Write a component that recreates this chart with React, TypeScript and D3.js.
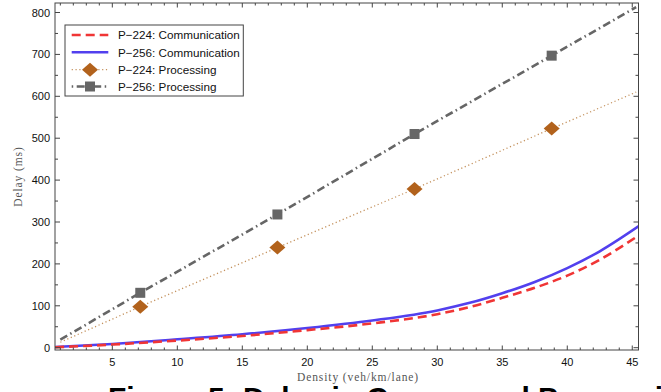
import React from "react";
import * as d3 from "d3";

// ---- data ----
const commDensity = [0.6, 5, 10, 15, 20, 25, 30, 32.5, 35, 37.5, 40, 42.5, 45.5];
const p224Comm = [1, 7.5, 17, 28, 42, 58, 80, 97, 119, 143, 172, 210, 268];
const p256Comm = [1.5, 9, 20, 32, 47, 65, 89, 107, 130, 157, 190, 230, 290];

const procLineDensity = [1, 7.15, 17.7, 28.25, 38.8, 45.3];
const p224ProcLine = [13, 98, 239, 379, 523, 610];
const p256ProcLine = [19, 131, 318, 510, 697, 813];

const markerDensity = [7.15, 17.7, 28.25, 38.8];
const p224ProcMarkers = [98, 239, 379, 523];
const p256ProcMarkers = [131, 318, 510, 697];

const xMajorTicks = [5, 10, 15, 20, 25, 30, 35, 40, 45];
const yMajorTicks = [0, 100, 200, 300, 400, 500, 600, 700, 800];

const legendLabels = [
  "P\u2212224: Communication",
  "P\u2212256: Communication",
  "P\u2212224: Processing",
  "P\u2212256: Processing",
];

const W = 661;
const H = 392;
const L = 55, R = 638.5, T = 3, B = 350;

const RED = "#f03535";
const BLUE = "#5240ee";
const BROWN = "#b2621c";
const BROWN_LINE = "#c4925e";
const GRAY = "#666666";
const AXIS = "#444444";

export default function App() {
  const x = d3.scaleLinear().domain([0.59, 45.48]).range([L, R]);
  const y = d3.scaleLinear().domain([-5.5, 822.7]).range([B, T]);

  const line = (xs: number[], ys: number[], curve: any = d3.curveMonotoneX) =>
    d3
      .line<number>()
      .x((_, i) => x(xs[i]))
      .y((d) => y(d))
      .curve(curve)(ys) || "";

  const xMinor = d3.range(1, 46, 1).filter((v) => v % 5 !== 0);
  const yMinor = d3.range(50, 822, 100);

  const sans = "'Liberation Sans', Arial, Helvetica, sans-serif";
  const serif = "'Liberation Serif', 'DejaVu Serif', serif";

  const diamond = (cx: number, cy: number, w = 16, h = 14) =>
    `M${cx},${cy - h / 2}L${cx + w / 2},${cy}L${cx},${cy + h / 2}L${cx - w / 2},${cy}Z`;

  const legX0 = 71.7, legX1 = 108.3, legText = 118;
  const legRows = [35, 52.3, 69.7, 86.5];

  return (
    <svg
      width={W}
      height={H}
      style={{ position: "absolute", left: 0, top: 0, background: "#fff" }}
      xmlns="http://www.w3.org/2000/svg"
    >
      <rect x={0} y={0} width={W} height={H} fill="#fff" />
      <defs>
        <clipPath id="plotclip">
          <rect x={L} y={T} width={R - L} height={B - T} />
        </clipPath>
      </defs>

      {/* caption (cut off by the frame) */}
      <text x={108} y={408} fontFamily={sans} fontWeight="bold" fontSize={30} fill="#000">
        Figure 5: Delay in Comm. and Processing
      </text>

      {/* series */}
      <g clipPath="url(#plotclip)" fill="none">
        <path
          d={line(procLineDensity, p224ProcLine, d3.curveLinear)}
          stroke={BROWN_LINE}
          strokeWidth={1.3}
          strokeDasharray="1.2,2.6"
        />
        <path
          d={line(procLineDensity, p256ProcLine, d3.curveLinear)}
          stroke={GRAY}
          strokeWidth={2.6}
          strokeDasharray="8,3.5,1.5,3.5"
        />
        <path d={line(commDensity, p256Comm)} stroke={BLUE} strokeWidth={2.6} />
        <path
          d={line(commDensity, p224Comm)}
          stroke={RED}
          strokeWidth={2.6}
          strokeDasharray="9,5"
        />
      </g>
      {markerDensity.map((d, i) => (
        <path key={"dm" + i} d={diamond(x(d), y(p224ProcMarkers[i]))} fill={BROWN} />
      ))}
      {markerDensity.map((d, i) => (
        <rect
          key={"sq" + i}
          x={x(d) - 5}
          y={y(p256ProcMarkers[i]) - 5}
          width={10}
          height={10}
          fill={GRAY}
        />
      ))}

      {/* frame */}
      <rect x={L} y={T} width={R - L} height={B - T} fill="none" stroke={AXIS} strokeWidth={1} />

      {/* ticks */}
      <g stroke={AXIS} strokeWidth={1}>
        {xMajorTicks.map((v) => (
          <g key={"xt" + v}>
            <line x1={x(v)} x2={x(v)} y1={B} y2={B - 4.5} />
            <line x1={x(v)} x2={x(v)} y1={T} y2={T + 4.5} />
          </g>
        ))}
        {xMinor.map((v) => (
          <g key={"xm" + v}>
            <line x1={x(v)} x2={x(v)} y1={B} y2={B - 2.5} />
            <line x1={x(v)} x2={x(v)} y1={T} y2={T + 2.5} />
          </g>
        ))}
        {yMajorTicks.map((v) => (
          <g key={"yt" + v}>
            <line x1={L} x2={L + 5} y1={y(v)} y2={y(v)} />
            <line x1={R} x2={R - 5} y1={y(v)} y2={y(v)} />
          </g>
        ))}
        {yMinor.map((v) => (
          <g key={"ym" + v}>
            <line x1={L} x2={L + 3} y1={y(v)} y2={y(v)} />
            <line x1={R} x2={R - 3} y1={y(v)} y2={y(v)} />
          </g>
        ))}
      </g>

      {/* tick labels */}
      <g fontFamily={sans} fontSize={11} fill="#111">
        {xMajorTicks.map((v) => (
          <text key={"xl" + v} x={x(v)} y={366} textAnchor="middle">
            {v}
          </text>
        ))}
        {yMajorTicks.map((v) => (
          <text key={"yl" + v} x={50} y={y(v) + 4} textAnchor="end">
            {v}
          </text>
        ))}
      </g>

      {/* axis titles */}
      <text
        x={358}
        y={381}
        textAnchor="middle"
        fontFamily={serif}
        fontSize={11.5}
        letterSpacing={0.9}
        fill="#555"
      >
        Density (veh/km/lane)
      </text>
      <text
        transform={`translate(21.5,${(T + B) / 2}) rotate(-90)`}
        textAnchor="middle"
        fontFamily={serif}
        fontSize={11.5}
        letterSpacing={0.9}
        fill="#555"
      >
        Delay (ms)
      </text>

      {/* legend */}
      <rect x={65} y={25} width={178.3} height={71} fill="#fff" stroke={AXIS} strokeWidth={1} />
      <line x1={legX0} x2={legX1} y1={legRows[0]} y2={legRows[0]} stroke={RED} strokeWidth={2.6} strokeDasharray="9,5" />
      <line x1={legX0} x2={legX1} y1={legRows[1]} y2={legRows[1]} stroke={BLUE} strokeWidth={2.6} />
      <line x1={legX0} x2={legX1} y1={legRows[2]} y2={legRows[2]} stroke={BROWN_LINE} strokeWidth={1.3} strokeDasharray="1.2,2.6" />
      <path d={diamond((legX0 + legX1) / 2, legRows[2])} fill={BROWN} />
      <line x1={legX0} x2={legX1} y1={legRows[3]} y2={legRows[3]} stroke={GRAY} strokeWidth={2.6} strokeDasharray="1.5,3.5,8,3.5" />
      <rect x={(legX0 + legX1) / 2 - 5} y={legRows[3] - 5} width={10} height={10} fill={GRAY} />
      <g fontFamily={sans} fontSize={11.7} fill="#111">
        {legendLabels.map((t, i) => (
          <text key={"lg" + i} x={legText} y={legRows[i] + 4.2}>
            {t}
          </text>
        ))}
      </g>
    </svg>
  );
}
